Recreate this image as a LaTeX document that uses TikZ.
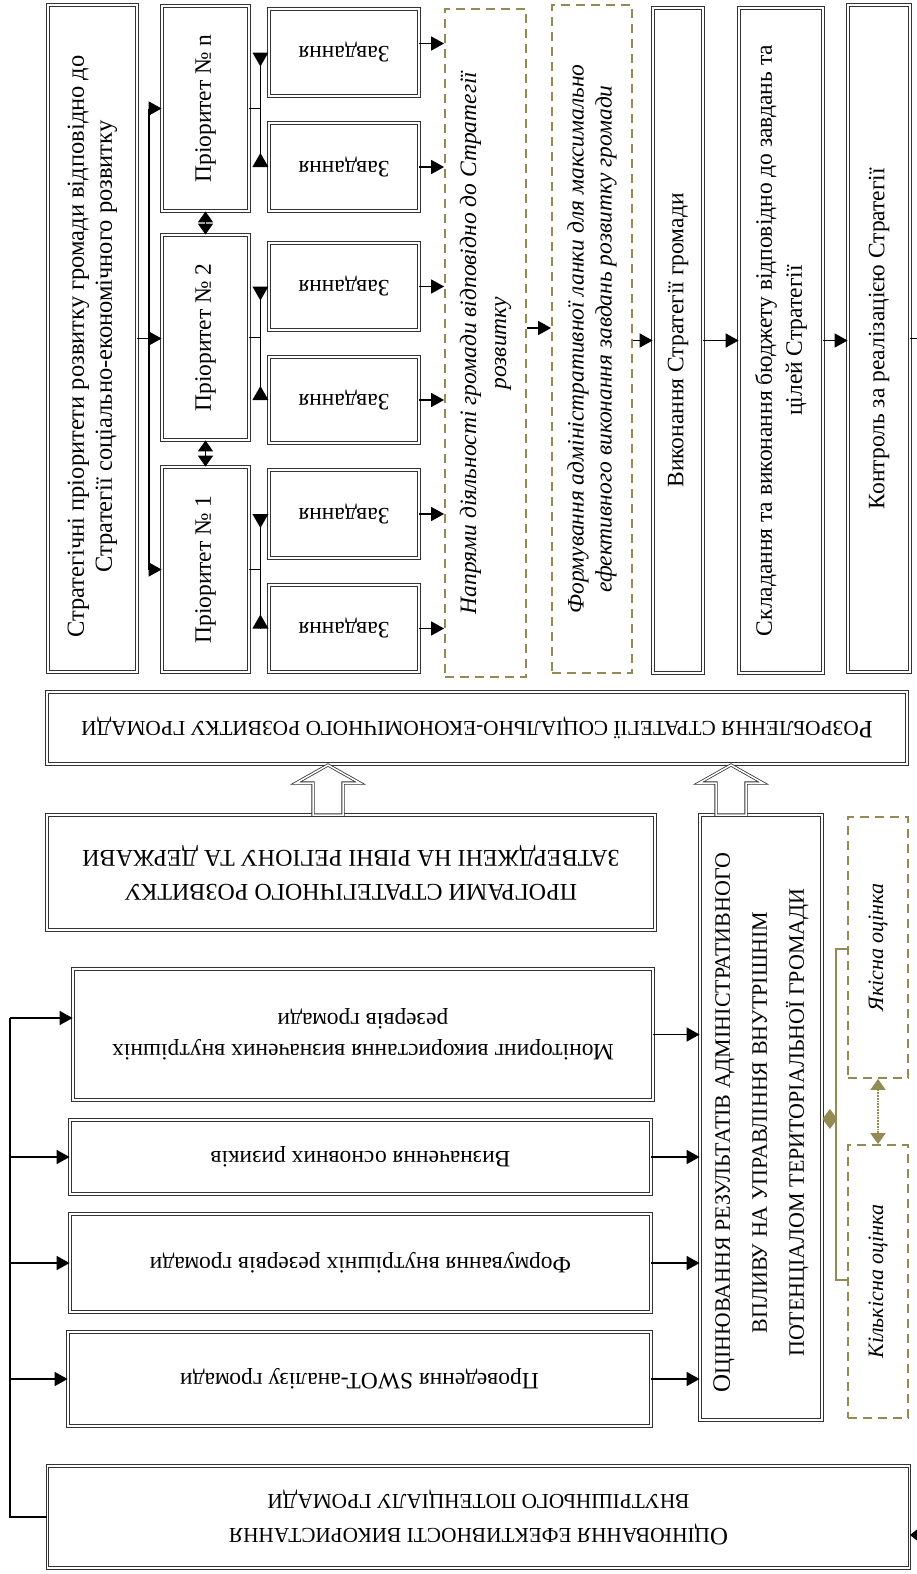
\documentclass[tikz,border=0pt]{standalone}
\usepackage{fontspec}
\setmainfont{Liberation Serif}
\usetikzlibrary{arrows.meta,calc}
\definecolor{olivec}{RGB}{148,138,84}
\newcommand\smc[2][21.3]{{\fontsize{#1}{34}\selectfont #2}}
\tikzset{
 box/.style={draw=black!80, line width=0.8pt, double=white, double distance=1.7pt, inner sep=0pt},
 dbox/.style={draw=olivec, line width=1.8pt, dash pattern=on 9pt off 6pt, inner sep=0pt},
 txt/.style={align=center, inner sep=0pt, font=\fontsize{23.5}{28}\selectfont},
 txtw/.style={align=center, inner sep=0pt, font=\fontsize{25}{34}\selectfont},
 ln/.style={line width=1.6pt},
 conn/.style={line width=1.6pt, -{Triangle[length=13pt,width=14pt]}},
 dblarr/.style={line width=1.6pt, {Triangle[length=11pt,width=15pt]}-{Triangle[length=11pt,width=15pt]}},
 oline/.style={draw=olivec, line width=2pt},
 hollow/.style={draw=black!80, line width=0.8pt, double=white, double distance=1.5pt, fill=white},
}
\newcommand\taskfork[3]{%
 \draw[ln] (#1.east) -- ++(11,0) coordinate (#1j);
 \draw[ln] (#1j |- #2.west) -- (#1j |- #3.west);
 \fill (#1j |- #2.west) ++(-8,0) -- ++(16,0) -- ++(-8,14) -- cycle;
 \fill (#1j |- #3.west) ++(-8,0) -- ++(16,0) -- ++(-8,-14) -- cycle;
}
\begin{document}
\begin{tikzpicture}[x=1pt,y=-1pt]
\useasboundingbox (0,0) rectangle (917,1574);

% ---------- upper part ----------
\node[box, minimum width=89pt, minimum height=667pt] (A) at (92.5,338.5) {};
\node[txt, rotate=90, font=\fontsize{24.5}{28}\selectfont] (At) at ([yshift=-8pt]A.center) {Стратегічні пріоритети розвитку громади відповідно до\\Стратегії соціально-економічного розвитку};

\node[box, minimum width=87pt, minimum height=205pt] (Pn) at (205.5,108.5) {};
\node[box, minimum width=87pt, minimum height=205pt] (P2) at (205.5,337.5) {};
\node[box, minimum width=87pt, minimum height=205pt] (P1) at (205.5,569.5) {};
\node[txt, rotate=90] (Pnt) at (Pn) {Пріоритет № n};
\node[txt, rotate=90] (P2t) at (P2) {Пріоритет № 2};
\node[txt, rotate=90] (P1t) at (P1) {Пріоритет № 1};

\node[box, minimum width=150pt, minimum height=87pt] (tna) at (344,52.5) {};
\node[box, minimum width=150pt, minimum height=88pt] (tnb) at (344,167) {};
\node[box, minimum width=150pt, minimum height=87pt] (t2a) at (344,286.5) {};
\node[box, minimum width=150pt, minimum height=86pt] (t2b) at (344,400) {};
\node[box, minimum width=150pt, minimum height=88pt] (t1a) at (344,514) {};
\node[box, minimum width=150pt, minimum height=87pt] (t1b) at (344,628.5) {};
\foreach \t in {tna,tnb,t2a,t2b,t1a,t1b}{\node[txt, rotate=180] (\t t) at (\t) {Завдання};}

\node[dbox, minimum width=81pt, minimum height=668pt] (D1) at (485.5,343) {};
\node[txt, rotate=90, font=\fontsize{23.5}{30}\selectfont\itshape] (D1t) at (D1) {Напрями діяльності громади відповідно до Стратегії\\розвитку};
\node[dbox, minimum width=80pt, minimum height=668pt] (D2) at (592,339) {};
\node[txt, rotate=90, font=\fontsize{23.5}{28}\selectfont\itshape] (D2t) at (D2) {Формування адміністративної ланки для максимально\\ефективного виконання завдань розвитку громади};

\node[box, minimum width=50pt, minimum height=665pt] (V) at (678,340.5) {};
\node[txt, rotate=90] (Vt) at (V) {Виконання Стратегії громади};
\node[box, minimum width=84pt, minimum height=665pt] (S) at (781,340.5) {};
\node[txt, rotate=90, font=\fontsize{23.5}{30}\selectfont] (St) at (S) {Складання та виконання бюджету відповідно до завдань та\\цілей Стратегії};
\node[box, minimum width=62pt, minimum height=667pt] (K) at (879,338.5) {};
\node[txt, rotate=90] (Kt) at (K) {Контроль за реалізацією Стратегії};

% connectors upper
\draw[conn] (A.east) -- (A.east -| P2.west);
\coordinate (ja) at (149,338.5);
\draw[ln] (ja |- Pn.west) -- (ja |- P1.west);
\draw[conn] (ja |- Pn.west) -- (Pn.west);
\draw[conn] (ja |- P1.west) -- (P1.west);
\draw[dblarr] (Pn.south) -- (P2.north);
\draw[dblarr] (P2.south) -- (P1.north);
\taskfork{Pn}{tna}{tnb}
\taskfork{P2}{t2a}{t2b}
\taskfork{P1}{t1a}{t1b}
\draw[conn] ([yshift=9pt]tna.east) -- ([yshift=9pt]tna.east -| D1.west);
\foreach \t in {tnb,t2a,t2b,t1a,t1b}{\draw[conn] (\t.east) -- (\t.east -| D1.west);}
\coordinate (y328) at (0,328);
\draw[conn] (D1.east |- y328) -- (D2.west |- y328);
\draw[conn] (D2.east |- V.west) -- (V.west);
\draw[conn] (V.east) -- (S.west);
\draw[conn] (S.east) -- (S.east -| K.west);

% ---------- middle ----------
\node[box, minimum width=860pt, minimum height=72pt] (R) at (477,728) {};
\node[txtw, rotate=180] (Rt) at (R) {Р\smc{ОЗРОБЛЕННЯ СТРАТЕГІЇ СОЦІАЛЬНО-ЕКОНОМІЧНОГО РОЗВИТКУ ГРОМАДИ}};
\node[box, minimum width=608pt, minimum height=115pt] (PR) at (351,872.5) {};
\node[txtw, rotate=180] (PRt) at (PR) {\smc[24]{ПРОГРАМИ СТРАТЕГІЧНОГО РОЗВИТКУ}\\\smc[24]{ЗАТВЕРДЖЕНІ НА РІВНІ РЕГІОНУ ТА ДЕРЖАВИ}};
\node[box, minimum width=122pt, minimum height=605pt] (O) at (761,1117.5) {};
\node[txtw, rotate=90, font=\fontsize{25}{37}\selectfont] (Ot) at ([yshift=-5pt]O.center) {О\smc[22]{ЦІНЮВАННЯ РЕЗУЛЬТАТІВ АДМІНІСТРАТИВНОГО}\\\smc[22]{ВПЛИВУ НА УПРАВЛІННЯ ВНУТРІШНІМ}\\\smc[22]{ПОТЕНЦІАЛОМ ТЕРИТОРІАЛЬНОЇ ГРОМАДИ}};

\draw[hollow] (313,815) -- (313,783) -- (296,783) -- (328,765) -- (360,783) -- (343,783) -- (343,815) -- cycle;
\draw[hollow] (716,815) -- (716,783) -- (699,783) -- (731,765) -- (763,783) -- (746,783) -- (746,815) -- cycle;

\node[dbox, minimum width=60pt, minimum height=261pt] (Q1) at (878,947.5) {};
\node[txt, rotate=90, font=\fontsize{22}{26}\selectfont\itshape] (Q1t) at (Q1) {Якісна оцінка};
\node[dbox, minimum width=60pt, minimum height=273pt] (Q2) at (878,1281.5) {};
\node[txt, rotate=90, font=\fontsize{22}{26}\selectfont\itshape] (Q2t) at (Q2) {Кількісна оцінка};
\coordinate (yq1) at (0,949);
\coordinate (yq2) at (0,1280);
\coordinate (yqd) at (0,1119);
\draw[oline] (Q1.west |- yq1) -- (836,949) -- (836,1280) -- (Q2.west |- yq2);
\draw[oline, -{Diamond[length=15pt,width=20pt]}] (836,1119) -- (O.east |- yqd);
\draw[draw=olivec, line width=1.8pt, densely dotted, {Triangle[length=11pt,width=15pt]}-{Triangle[length=11pt,width=15pt]}] (Q1.south) -- (Q2.north);

% ---------- lower left ----------
\node[box, minimum width=580pt, minimum height=131pt] (M) at (363,1034.5) {};
\node[txt, rotate=180, font=\fontsize{23.5}{31}\selectfont] (Mt) at (M) {Моніторинг використання визначених внутрішніх\\резервів громади};
\node[box, minimum width=581pt, minimum height=74pt] (Vz) at (360.5,1157) {};
\node[txt, rotate=180] (Vzt) at (Vz) {Визначення основних ризиків};
\node[box, minimum width=581pt, minimum height=98pt] (F) at (360.5,1263) {};
\node[txt, rotate=180] (Ft) at (F) {Формування внутрішніх резервів громади};
\node[box, minimum width=583pt, minimum height=94pt] (SW) at (359.5,1379) {};
\node[txt, rotate=180] (SWt) at (SW) {Проведення SWOT-аналізу громади};

\node[box, minimum width=862pt, minimum height=102pt] (B) at (478.5,1517) {};
\node[txtw, rotate=180] (Bt) at (B) {О\smc{ЦІНЮВАННЯ ЕФЕКТИВНОСТІ ВИКОРИСТАННЯ}\\\smc{ВНУТРІШНЬОГО ПОТЕНЦІАЛУ ГРОМАДИ}};

\foreach \b in {M,Vz,F,SW}{\draw[conn] (\b.east) -- (\b.east -| O.west);}
\coordinate (lf) at (10,1018);
\draw[ln] (B.west) -| (lf);
\draw[conn] (lf) -- (lf -| M.west);
\foreach \b in {Vz,F,SW}{\draw[conn] (lf |- \b.west) -- (\b.west);}

% Control -> bottom (vertical part lies just outside the picture)
\coordinate (kb) at (920,1535);
\draw[ln] (K.east) -| (kb);
\draw[line width=1.6pt, -{Triangle[length=8pt,width=12pt]}] (kb) -- (kb -| B.east);
\end{tikzpicture}
\end{document}
